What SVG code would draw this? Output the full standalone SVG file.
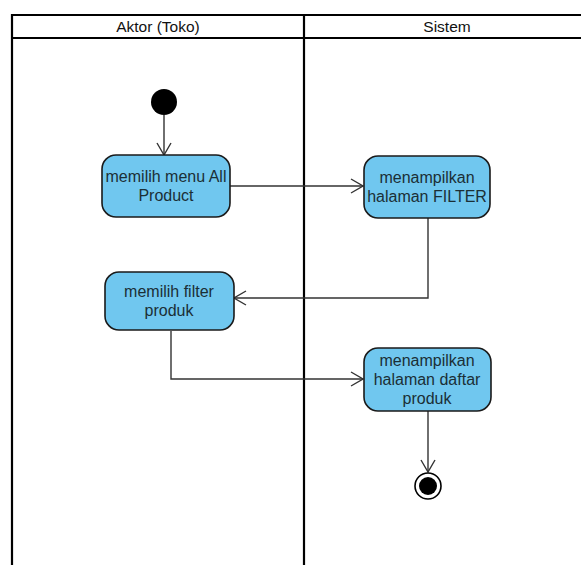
<svg xmlns="http://www.w3.org/2000/svg" width="581" height="565" viewBox="0 0 581 565">
  <style>
    .lane { fill: none; stroke: #000; stroke-width: 2.2; }
    .act { fill: #70C7EF; stroke: #1a1a1a; stroke-width: 1.6; }
    .lbl { font-family: "Liberation Sans", Arial, sans-serif; font-size: 16px; fill: #1b2f36; text-anchor: middle; }
    .hdr { font-family: "Liberation Sans", Arial, sans-serif; font-size: 15.5px; fill: #111; text-anchor: middle; }
    .edge { fill: none; stroke: #333; stroke-width: 1.4; marker-end: url(#open); }
  </style>
  <defs>
    <marker id="open" viewBox="0 0 14 16" refX="13" refY="8" markerWidth="14" markerHeight="16" markerUnits="userSpaceOnUse" orient="auto">
      <path d="M1,1 L13,8 L1,15" fill="none" stroke="#333" stroke-width="1.4"/>
    </marker>
  </defs>
  <rect width="581" height="565" fill="#fff"/>

  <!-- swimlanes -->
  <g id="lanes">
    <path class="lane" d="M12,565 V15 H581 M12,38 H581 M304,15 V565"/>
    <text class="hdr" x="158" y="32">Aktor (Toko)</text>
    <text class="hdr" x="447" y="32">Sistem</text>
  </g>

  <!-- connectors -->
  <g id="connectors">
    <path class="edge" d="M164,115 V155"/>
    <path class="edge" d="M230,186 H363"/>
    <path class="edge" d="M428,218 V298 H234"/>
    <path class="edge" d="M171,331 V379 H363"/>
    <path class="edge" d="M428,411 V472"/>
  </g>

  <g id="start">
    <circle cx="164" cy="102" r="13" fill="#000"/>
  </g>

  <g id="pilih-menu">
    <rect class="act" x="102" y="155" width="128" height="62" rx="14"/>
    <text class="lbl" x="166" y="182">memilih menu All</text>
    <text class="lbl" x="166" y="201">Product</text>
  </g>

  <g id="tampil-filter">
    <rect class="act" x="364" y="156" width="126" height="62" rx="14"/>
    <text class="lbl" x="427" y="183">menampilkan</text>
    <text class="lbl" x="427" y="202">halaman FILTER</text>
  </g>

  <g id="pilih-filter">
    <rect class="act" x="105" y="272" width="129" height="58" rx="14"/>
    <text class="lbl" x="169" y="297">memilih filter</text>
    <text class="lbl" x="169" y="316">produk</text>
  </g>

  <g id="tampil-daftar">
    <rect class="act" x="364" y="348" width="127" height="63" rx="14"/>
    <text class="lbl" x="427" y="366">menampilkan</text>
    <text class="lbl" x="427" y="385">halaman daftar</text>
    <text class="lbl" x="427" y="404">produk</text>
  </g>

  <g id="end">
    <circle cx="428" cy="486" r="13" fill="#fff" stroke="#000" stroke-width="1.6"/>
    <circle cx="428" cy="486" r="9" fill="#000"/>
  </g>
</svg>
